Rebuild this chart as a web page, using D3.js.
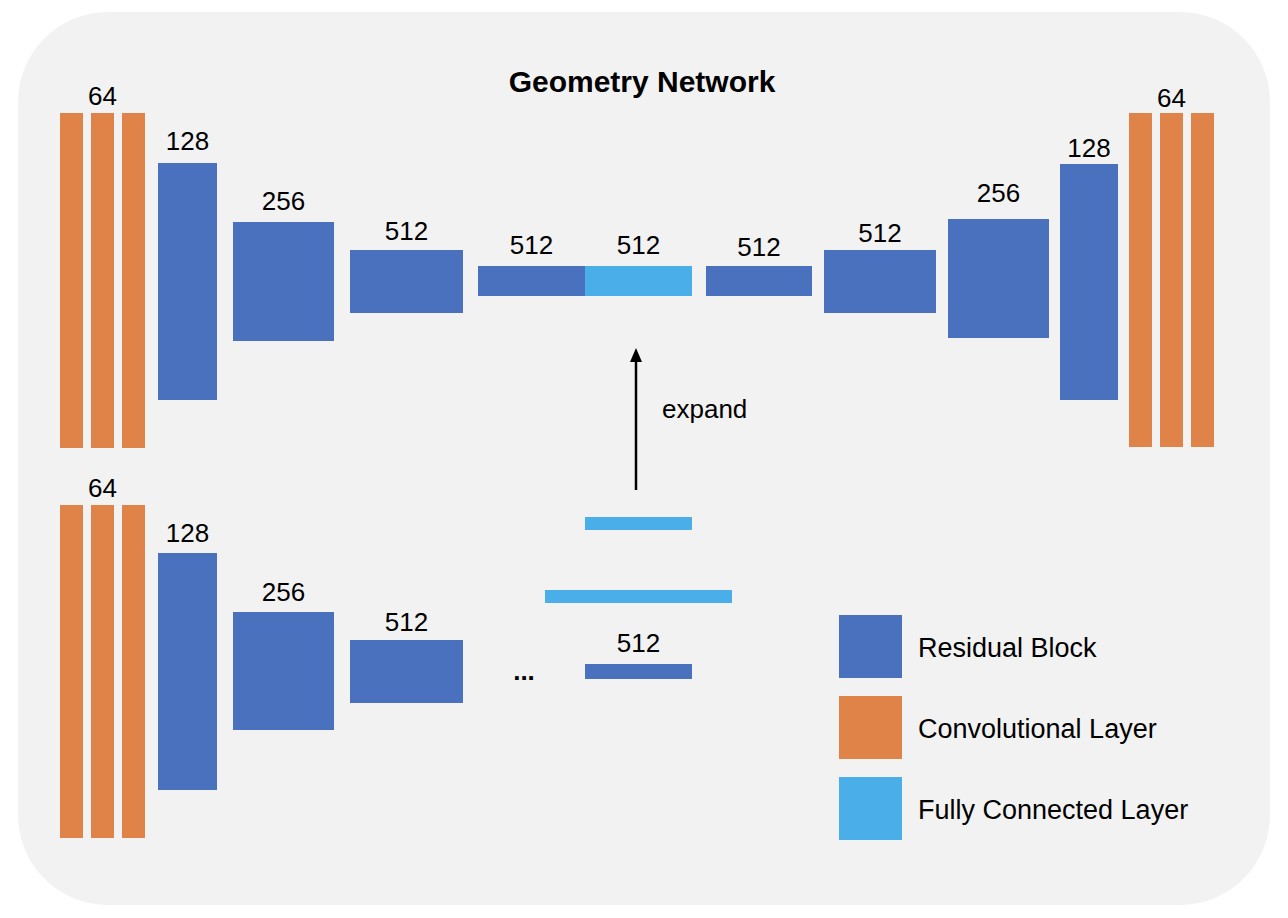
<!DOCTYPE html>
<html><head><meta charset="utf-8">
<script src="https://cdn.jsdelivr.net/npm/d3@7"></script>
<style>body{margin:0;background:#fff}text{font-family:"Liberation Sans",Arial,sans-serif}</style>
</head><body><svg id="c" width="1288" height="918"></svg>
<script>
// Data
const topChannels = [64,128,256,512,512,512,512,512,256,128,64];
const topTypes = ["conv","res","res","res","res","fc","res","res","res","res","conv"];
const bottomChannels = [64,128,256,512,512];
const legendItems = ["Residual Block","Convolutional Layer","Fully Connected Layer"];
const legendTypes = ["res","conv","fc"];

// Layout (pixel geometry kept separate)
const color = d3.scaleOrdinal().domain(["res","conv","fc"]).range(["#4a71bd","#e08349","#4aaee8"]);
const topGeom = [[60,113,145,448,105],[158,163,217,400,150],[233,222,334,341,210],[350,250,463,313,240],
 [478,266,585,296,254],[585,266,692,296,254],[706,266,812,296,256],[824,250,936,313,242],
 [948,219,1049,338,202],[1060,164,1118,400,157],[1129,113,1214,447,107]];
const botGeom = [[60,505,145,838,497],[158,553,217,790,542],[233,612,334,730,601],[350,640,463,703,631],[585,664,692,679,652]];
const svg = d3.select("#c");
svg.append("rect").attr("x",18).attr("y",12).attr("width",1252).attr("height",893).attr("rx",90).attr("fill","#f2f2f2");
svg.append("text").attr("x",642).attr("y",92).attr("text-anchor","middle").attr("font-size",30).attr("font-weight","bold").text("Geometry Network");

function drawBlock(g,type,ch){
  const [x0,y0,x1,y1,ly]=g;
  if(type==="conv"){
    const w=(x1-x0-16)/3;
    for(let i=0;i<3;i++) svg.append("rect").attr("x",x0+i*(w+8)).attr("y",y0).attr("width",w).attr("height",y1-y0).attr("fill",color("conv"));
  } else svg.append("rect").attr("x",x0).attr("y",y0).attr("width",x1-x0).attr("height",y1-y0).attr("fill",color(type));
  svg.append("text").attr("x",(x0+x1)/2).attr("y",ly).attr("text-anchor","middle").attr("font-size",26).text(ch);
}
topChannels.forEach((c,i)=>drawBlock(topGeom[i],topTypes[i],c));
bottomChannels.forEach((c,i)=>drawBlock(botGeom[i],i===0?"conv":"res",c));
// fc bars bottom
svg.append("rect").attr("x",585).attr("y",517).attr("width",107).attr("height",13).attr("fill",color("fc"));
svg.append("rect").attr("x",545).attr("y",590).attr("width",187).attr("height",13).attr("fill",color("fc"));
svg.append("text").attr("x",524).attr("y",680).attr("text-anchor","middle").attr("font-size",26).attr("font-weight","bold").text("...");
// arrow
svg.append("line").attr("x1",636).attr("y1",490).attr("x2",636).attr("y2",360).attr("stroke","#000").attr("stroke-width",2.5);
svg.append("path").attr("d","M636,348 L630,362 L642,362 Z").attr("fill","#000");
svg.append("text").attr("x",662).attr("y",418).attr("font-size",26).text("expand");
// legend
legendItems.forEach((t,i)=>{
  svg.append("rect").attr("x",839).attr("y",615+i*81).attr("width",63).attr("height",63).attr("fill",color(legendTypes[i]));
  svg.append("text").attr("x",918).attr("y",657+i*81).attr("font-size",27).text(t);
});
</script></body></html>
